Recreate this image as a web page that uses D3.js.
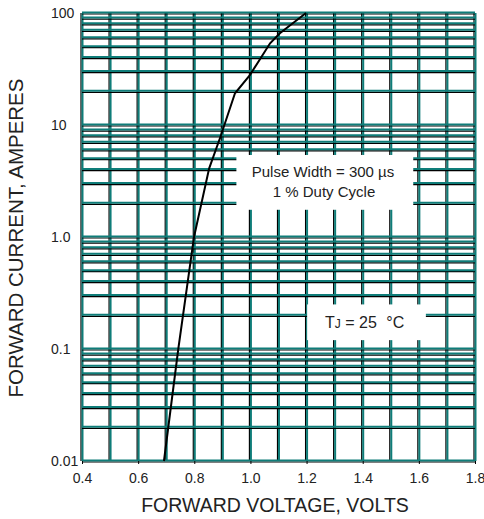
<!DOCTYPE html>
<html>
<head>
<meta charset="utf-8">
<script src="https://cdn.jsdelivr.net/npm/d3@7"></script>
<style>
  body { margin: 0; background: #fff; }
  text { font-family: Arial, "Liberation Sans", sans-serif; fill: #222; }
</style>
</head>
<body>
<div id="plot"></div>
<script>
// Forward voltage (V) vs forward current (A)
const voltage = [0.692, 0.743, 0.799, 0.853, 0.892, 0.945, 0.998, 1.07, 1.105, 1.198];
const current = [0.01, 0.1, 1.0, 4.1, 7.7, 19.2, 27.9, 53.6, 65.9, 100];

const xTicks = [0.4, 0.6, 0.8, 1.0, 1.2, 1.4, 1.6, 1.8];
const xTickLabels = ["0.4", "0.6", "0.8", "1.0", "1.2", "1.4", "1.6", "1.8"];
const yTicks = [0.01, 0.1, 1, 10, 100];
const yTickLabels = ["0.01", "0.1", "1.0", "10", "100"];

var width = 484, height = 519;
const margin = {top: 13, right: 9, bottom: 58, left: 82};
var chartWidth = width - margin.left - margin.right;
var chartHeight = height - margin.top - margin.bottom;

var teal = "#0f7d79";

var svg = d3.select("#plot")
     .append("svg")
     .attr("width", width)
     .attr("height", height)
     .append("g")
     .attr("transform", "translate(" + margin.left + "," + margin.top + ")");

var x = d3.scaleLinear().domain([0.4, 1.8]).range([0, chartWidth]);
var y = d3.scaleLog().domain([0.01, 100]).range([chartHeight, 0]);

// grid values: every 0.1 V, and 1..9 in each decade
var xGrid = d3.range(0, 15).map(function(i) { return +(0.4 + i * 0.1).toFixed(1); });
var yGrid = [];
[0.01, 0.1, 1, 10].forEach(function(d) {
     for (let k = 1; k < 10; k++) yGrid.push(d * k);
});
yGrid.push(100);

// each grid line is a black line with a teal line over it (shadow look)
var grid = svg.append("g").attr("class", "grid");

grid.selectAll(".vb").data(xGrid).enter().append("line")
     .attr("x1", function(d) { return x(d) - 1; })
     .attr("x2", function(d) { return x(d) - 1; })
     .attr("y1", 0).attr("y2", chartHeight)
     .attr("stroke", "#000").attr("stroke-width", 1.2);
grid.selectAll(".vt").data(xGrid).enter().append("line")
     .attr("x1", function(d) { return x(d) + 0.5; })
     .attr("x2", function(d) { return x(d) + 0.5; })
     .attr("y1", 0).attr("y2", chartHeight)
     .attr("stroke", teal).attr("stroke-width", 2);

grid.selectAll(".hb").data(yGrid).enter().append("line")
     .attr("x1", 0).attr("x2", chartWidth)
     .attr("y1", function(d) { return y(d) + 1; })
     .attr("y2", function(d) { return y(d) + 1; })
     .attr("stroke", "#000").attr("stroke-width", 1.2);
grid.selectAll(".ht").data(yGrid).enter().append("line")
     .attr("x1", 0).attr("x2", chartWidth)
     .attr("y1", function(d) { return y(d) - 0.5; })
     .attr("y2", function(d) { return y(d) - 0.5; })
     .attr("stroke", teal).attr("stroke-width", 2);

// white annotation boxes
svg.append("rect")
     .attr("x", x(0.95)).attr("y", y(5.4))
     .attr("width", x(1.58) - x(0.95))
     .attr("height", y(1.75) - y(5.4))
     .attr("fill", "#fff");

svg.append("rect")
     .attr("x", x(1.202)).attr("y", y(0.25))
     .attr("width", x(1.625) - x(1.202))
     .attr("height", y(0.12) - y(0.25))
     .attr("fill", "#fff");

// X axis
svg.append("g")
     .attr("transform", "translate(0," + chartHeight + ")")
     .call(d3.axisBottom(x)
          .tickValues(xTicks)
          .tickFormat(function(d, i) { return xTickLabels[i]; })
          .tickSize(3)
          .tickPadding(9))
     .call(function(g) { g.select(".domain").remove(); })
     .selectAll("text")
          .style("font-size", "14px")
          .attr("fill", "#222");

// Y axis
svg.append("g")
     .call(d3.axisLeft(y)
          .tickValues(yTicks)
          .tickFormat(function(d, i) { return yTickLabels[i]; })
          .tickSize(0)
          .tickPadding(31))
     .call(function(g) { g.select(".domain").remove(); })
     .selectAll("text")
          .attr("text-anchor", "start")
          .style("font-size", "14px")
          .attr("fill", "#222");

// forward current curve
var pts = voltage.map(function(v, i) { return [v, current[i]]; });
svg.append("path")
     .datum(pts)
     .attr("fill", "none")
     .attr("stroke", "#000")
     .attr("stroke-width", 2)
     .attr("d", d3.line()
          .x(function(d) { return x(d[0]); })
          .y(function(d) { return y(d[1]); }));

// annotation text
svg.append("text")
     .attr("x", 323 - margin.left).attr("y", 177 - margin.top)
     .attr("text-anchor", "middle")
     .style("font-size", "15px")
     .text("Pulse Width = 300 \u00b5s");
svg.append("text")
     .attr("x", 324 - margin.left).attr("y", 197 - margin.top)
     .attr("text-anchor", "middle")
     .style("font-size", "15px")
     .text("1 % Duty Cycle");

var tj = svg.append("text")
     .attr("x", 325 - margin.left).attr("y", 328 - margin.top)
     .style("font-size", "16px");
tj.append("tspan").text("T");
tj.append("tspan").style("font-size", "12px").text("J");
tj.append("tspan").text(" = 25 ");
tj.append("tspan").attr("dx", 5).text("\u00b0C");

// axis titles
svg.append("text")
     .attr("x", 275 - margin.left)
     .attr("y", chartHeight + 51)
     .attr("text-anchor", "middle")
     .style("font-size", "19.5px")
     .text("FORWARD VOLTAGE, VOLTS");

svg.append("text")
     .attr("transform", "translate(" + (23 - margin.left) + "," + (238 - margin.top) + ") rotate(-90)")
     .attr("text-anchor", "middle")
     .style("font-size", "20.5px")
     .text("FORWARD CURRENT, AMPERES");
</script>
</body>
</html>
